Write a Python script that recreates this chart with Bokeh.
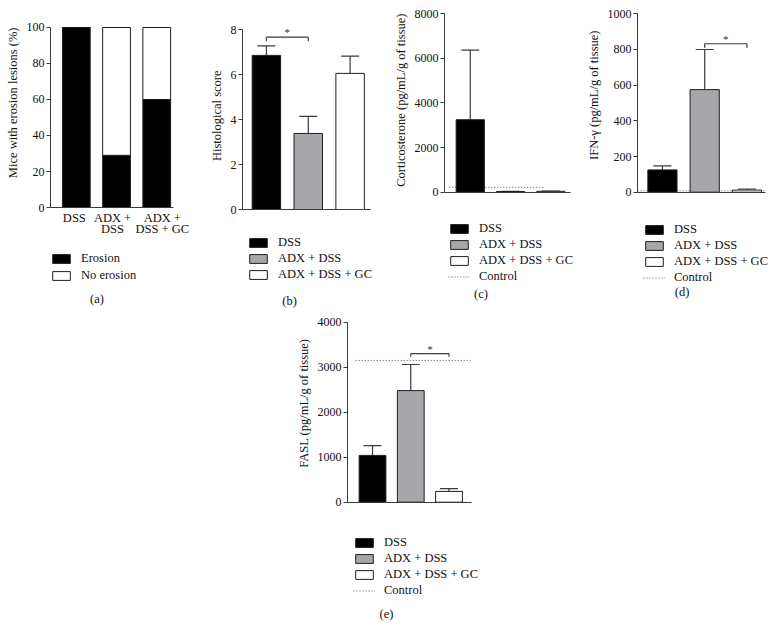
from bokeh.plotting import figure
from bokeh.models import (Range1d, FixedTicker, Legend, LegendItem, Label, Title,
                          Whisker, TeeHead, ColumnDataSource, Spacer)
from bokeh.layouts import row, column
from bokeh.embed import file_html
from bokeh.resources import INLINE
from bokeh.core.properties import value

# ---------------- data ----------------
groups = ["DSS", "ADX + DSS", "ADX + DSS + GC"]
group_label_line1 = ["DSS", "ADX +", "ADX +"]
group_label_line2 = ["", "DSS", "DSS + GC"]

erosion_pct = [100, 29, 60]
no_erosion_pct = [0, 71, 40]

histo_mean = [6.85, 3.38, 6.05]
histo_err = [0.42, 0.76, 0.77]
histo_sig = (0, 1, 7.66)

cort_mean = [3250, 30, 40]
cort_err = [3120, 10, 12]
cort_control = 220

ifn_mean = [125, 575, 12]
ifn_err = [22, 225, 6]
ifn_control = 8
ifn_sig = (1, 2, 832)

fasl_mean = [1040, 2480, 240]
fasl_err = [215, 580, 60]
fasl_control = 3150
fasl_sig = (1, 2, 3300)

# ---------------- style ----------------
FONT = "Liberation Serif"
AX = "#3a3a3a"
EDGE = "#1e1e1e"
FILLS = ["#000000", "#a7a7ab", "#ffffff"]
XS = list(range(len(groups)))
CAT_LABEL_DX = [-2, -4, 5.5]   # small horizontal nudges of panel (a) labels (px)


def base_fig(w, h, left, top, bottom, xr, xbounds, yr, ybounds, yticks, ylabel, lab_off):
    p = figure(width=w, height=h, x_range=Range1d(*xr), y_range=Range1d(*yr),
               output_backend="svg", toolbar_location=None,
               min_border_left=left, min_border_right=1,
               min_border_top=top, min_border_bottom=bottom)
    p.outline_line_color = None
    p.xgrid.visible = False
    p.ygrid.visible = False
    ya = p.yaxis[0]
    ya.ticker = FixedTicker(ticks=yticks)
    ya.bounds = ybounds
    ya.minor_tick_line_color = None
    ya.major_tick_in = 0
    ya.major_tick_out = 4
    ya.axis_line_color = AX
    ya.major_tick_line_color = AX
    ya.major_label_text_font = FONT
    ya.major_label_text_font_size = "12px"
    ya.major_label_text_color = "#111111"
    ya.major_label_standoff = 2
    p.add_layout(Title(text=ylabel, align="right", offset=lab_off,
                       vertical_align="bottom", standoff=7,
                       text_font=FONT, text_font_size="12.5px",
                       text_font_style="normal", text_color="#111111"), "left")
    xa = p.xaxis[0]
    xa.ticker = FixedTicker(ticks=[])
    xa.fixed_location = 0
    xa.bounds = xbounds
    xa.major_tick_line_color = None
    xa.minor_tick_line_color = None
    xa.major_label_standoff = 0
    xa.axis_line_color = AX
    return p


def add_legend(p, items, loc, item_h=16):
    lg = Legend(items=items, location=loc, orientation="vertical",
                glyph_width=22, glyph_height=11, label_height=item_h,
                spacing=0, padding=0, margin=0, label_standoff=9,
                border_line_color=None, background_fill_alpha=0,
                label_text_font=FONT, label_text_font_size="12.5px",
                label_text_color="#111111")
    p.add_layout(lg)


def add_caption(p, text, x, y):
    p.add_layout(Label(x=x, y=y, x_units="screen", y_units="screen", text=text,
                       text_align="center", text_baseline="middle",
                       text_font=FONT, text_font_size="12.5px",
                       text_color="#111111"))


def add_bars(p, means, errs, width):
    src = ColumnDataSource(dict(x=XS, top=means, lo=means,
                                hi=[m + e for m, e in zip(means, errs)],
                                fill=FILLS))
    r = p.vbar(x="x", top="top", bottom=0, width=width, source=src,
               fill_color="fill", line_color=EDGE, line_width=1)
    p.add_layout(Whisker(source=src, base="x", lower="lo", upper="hi",
                         dimension="height", line_color=AX, line_width=1.2,
                         lower_head=None,
                         upper_head=TeeHead(size=18, line_color=AX, line_width=1.2)))
    return r


def add_sig(p, sig, tick):
    a, b, y = sig
    p.segment(x0=[a, a, b], y0=[y, y, y], x1=[b, a, b], y1=[y, y - tick, y - tick],
              line_color=AX, line_width=1.2)
    p.text(x=[(a + b) / 2], y=[y], text=["*"], text_align="center",
           text_baseline="middle", y_offset=-5, text_font=value(FONT),
           text_font_size="11px", text_color="#333333")


def bar_items(r):
    return [LegendItem(label=g, renderers=[r], index=i) for i, g in enumerate(groups)]


def add_control(p, x0, x1, yv):
    return p.segment(x0=[x0], y0=[yv], x1=[x1], y1=[yv], line_color="#555555",
                     line_width=1, line_dash="1 2")


TOP_H = 312

# ---------------- panel (a) ----------------
pa = base_fig(197, TOP_H, 49, 5, 2, (-0.642, 2.988), (-0.642, 2.42),
              (-57.22, 112.22), (0, 100), [0, 20, 40, 60, 80, 100],
              "Mice with erosion lesions (%)", 22)
srca = ColumnDataSource(dict(x=XS, e=erosion_pct,
                             top=[a + b for a, b in zip(erosion_pct, no_erosion_pct)],
                             l1=group_label_line1, l2=group_label_line2,
                             dx=CAT_LABEL_DX))
r_er = pa.vbar(x="x", top="e", bottom=0, width=0.69, source=srca,
               fill_color="#000000", line_color=EDGE)
r_no = pa.vbar(x="x", top="top", bottom="e", width=0.69, source=srca,
               fill_color="#ffffff", line_color=EDGE)
for col, off in (("l1", 3), ("l2", 14)):
    pa.text(x="x", y=0, text=col, source=srca, text_align="center",
            text_baseline="top", x_offset="dx", y_offset=off, text_font=value(FONT),
            text_font_size="12.5px", text_color="#111111")
add_legend(pa, [LegendItem(label="Erosion", renderers=[r_er]),
                LegendItem(label="No erosion", renderers=[r_no])], (0, 26), item_h=17)
add_caption(pa, "(a)", 46.5, 12)

# ---------------- panel (b) ----------------
pb = base_fig(191, TOP_H, 45, 5, 2, (-0.571, 2.893), (-0.571, 2.49),
              (-4.489, 9.067), (0, 8), [0, 2, 4, 6, 8], "Histological score", 65)
rb = add_bars(pb, histo_mean, histo_err, 0.68)
add_sig(pb, histo_sig, 8 * 4 / 180)
add_legend(pb, bar_items(rb), (5, 27.5))
add_caption(pb, "(b)", 47, 10)

# ---------------- panel (c) ----------------
pc = base_fig(192, TOP_H, 52, 5, 2, (-0.639, 2.711), (-0.639, 2.49),
              (-5305, 8372), (0, 8000), [0, 2000, 4000, 6000, 8000],
              "Corticosterone (pg/mL/g of tissue)", 8)
ctl_c = add_control(pc, -0.52, 1.84, cort_control)
rc = add_bars(pc, cort_mean, cort_err, 0.70)
add_legend(pc, bar_items(rc) + [LegendItem(label="Control", renderers=[ctl_c])], (4, 25.5))
add_caption(pc, "(c)", 36.5, 16.7)

# ---------------- panel (d) ----------------
pd_ = base_fig(196, TOP_H, 57, 5, 2, (-0.59, 2.675), (-0.59, 2.44),
               (-663.1, 1046.5), (0, 1000), [0, 200, 400, 600, 800, 1000],
               "IFN-\u03b3 (pg/mL/g of tissue)", 25)
ctl_d = add_control(pd_, -0.59, 2.44, ifn_control)
rd = add_bars(pd_, ifn_mean, ifn_err, 0.69)
add_sig(pd_, ifn_sig, 1000 * 4 / 178)
add_legend(pd_, bar_items(rd) + [LegendItem(label="Control", renderers=[ctl_d])], (6, 24.5))
add_caption(pd_, "(d)", 44.5, 18.3)

# ---------------- panel (e) ----------------
pe = base_fig(200, 328, 57, 2, 2, (-0.654, 3.059), (-0.654, 2.59),
              (-3029, 4171), (0, 4000), [0, 1000, 2000, 3000, 4000],
              "FASL (pg/mL/g of tissue)", 24)
ctl_e = add_control(pe, -0.44, 2.56, fasl_control)
re_ = add_bars(pe, fasl_mean, fasl_err, 0.70)
add_sig(pe, fasl_sig, 4000 * 3 / 180)
add_legend(pe, bar_items(re_) + [LegendItem(label="Control", renderers=[ctl_e])], (6, 39.5))
add_caption(pe, "(e)", 39, 24.7)

layout = column(row(pa, pb, pc, pd_), row(Spacer(width=290, height=328), pe))

open("out.html", "w").write(file_html(layout, INLINE))
